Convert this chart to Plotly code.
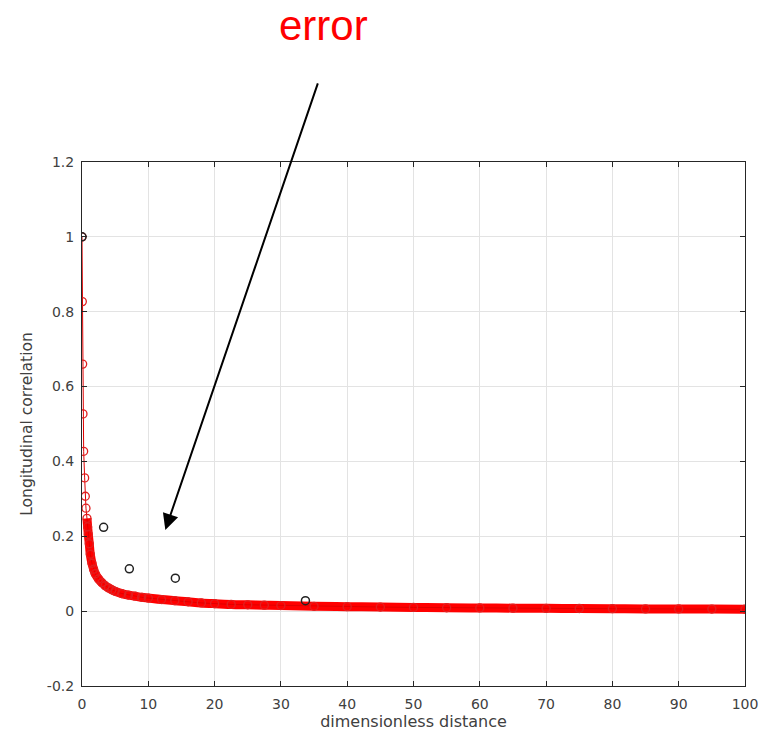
import plotly.graph_objects as go

red_x = [0, 0.05, 0.1, 0.15, 0.25, 0.4, 0.5, 0.6, 0.75, 0.85, 0.95, 1.1, 1.25, 1.5, 1.75,
         2, 2.5, 3, 3.5, 4, 4.5, 5, 6, 7, 8, 9, 10, 12, 14, 16, 18, 20, 22.5, 25, 27.5,
         30, 35, 40, 45, 50, 55, 60, 65, 70, 75, 80, 85, 90, 95, 100]
red_y = [1.0, 0.827, 0.66, 0.527, 0.427, 0.356, 0.307, 0.275, 0.248, 0.225, 0.205, 0.18,
         0.152, 0.128, 0.112, 0.100, 0.086, 0.076, 0.068, 0.062, 0.057, 0.053, 0.047,
         0.043, 0.040, 0.037, 0.035, 0.031, 0.028, 0.025, 0.022, 0.020, 0.018, 0.017,
         0.016, 0.015, 0.013, 0.012, 0.011, 0.010, 0.009, 0.0085, 0.008, 0.0075, 0.007,
         0.0065, 0.006, 0.0058, 0.0055, 0.005]

# Black open circles
blk_x = [0, 3.26, 7.14, 14.08, 33.7]
blk_y = [1.0, 0.224, 0.113, 0.088, 0.028]

x_ticks = [0, 10, 20, 30, 40, 50, 60, 70, 80, 90, 100]
y_ticks = [-0.2, 0, 0.2, 0.4, 0.6, 0.8, 1, 1.2]
y_tick_text = ["-0.2", "0", "0.2", "0.4", "0.6", "0.8", "1", "1.2"]

band_start = 8  # index from which circles overlap into a solid band

RED = "#ff0000"
AX = "#262626"
TXT = "#404040"
FONT = "DejaVu Sans"

fig = go.Figure()
fig.add_trace(go.Scatter(x=red_x[band_start:], y=red_y[band_start:], mode="lines",
                         line=dict(color=RED, width=9, shape="spline"),
                         hoverinfo="skip", showlegend=False))
fig.add_trace(go.Scatter(x=red_x, y=red_y, mode="lines+markers",
                         line=dict(color="#e00000", width=1),
                         marker=dict(symbol="circle-open", size=8, color="#e02020",
                                     line=dict(width=1.3)),
                         showlegend=False))
fig.add_trace(go.Scatter(x=blk_x, y=blk_y, mode="markers",
                         marker=dict(symbol="circle-open", size=8, color="#222222",
                                     line=dict(width=1.5)),
                         showlegend=False))

fig.add_annotation(text="error", x=0.365, y=1.307, xref="paper", yref="paper",
                   xanchor="center", yanchor="top", showarrow=False, borderpad=0,
                   font=dict(family="Liberation Sans", size=42, color="#ff0000"))
fig.add_annotation(text="", x=12.57, y=0.217, xref="x", yref="y",
                   ax=153, ay=-448, axref="pixel", ayref="pixel",
                   showarrow=True, arrowhead=2, arrowsize=1.6, arrowwidth=2,
                   arrowcolor="#000000")

axis_common = dict(showline=True, linecolor=AX, linewidth=1, mirror="ticks",
                   ticks="inside", ticklen=5, tickcolor=AX, tickwidth=1,
                   showgrid=True, gridcolor="#e3e3e3", gridwidth=1,
                   zeroline=False, automargin=False,
                   tickfont=dict(family=FONT, size=14, color=TXT))

fig.update_xaxes(range=[0, 100], tickvals=x_ticks, ticklabelstandoff=5,
                 title=dict(text="dimensionless distance", standoff=4,
                            font=dict(family=FONT, size=16, color=TXT)),
                 **axis_common)
fig.update_yaxes(range=[-0.2, 1.2], tickvals=y_ticks, ticktext=y_tick_text,
                 ticklabelstandoff=4,
                 title=dict(text="Longitudinal correlation", standoff=10,
                            font=dict(family=FONT, size=15.5, color=TXT)),
                 **axis_common)

fig.update_layout(width=764, height=734, margin=dict(l=82, r=19, t=162, b=48),
                  plot_bgcolor="white", paper_bgcolor="white",
                  font=dict(family=FONT))

fig.write_html("out.html")
